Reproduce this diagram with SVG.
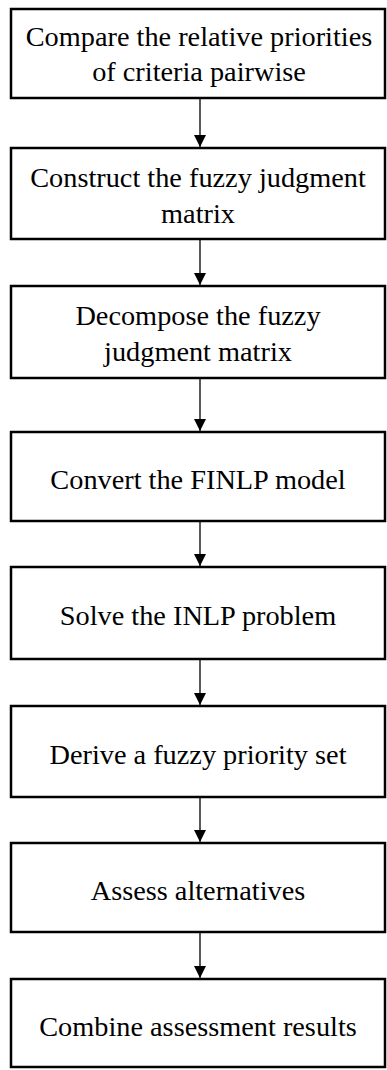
<svg xmlns="http://www.w3.org/2000/svg" width="387" height="1070" viewBox="0 0 387 1070">
<style>
.box{fill:#fff;stroke:#000;stroke-width:2.5}
.t{font-family:'Liberation Serif','Times New Roman',Times,serif;font-size:28.3px;fill:#000;text-anchor:middle}
.c{stroke:#000;stroke-width:1.3;fill:none}
</style>
<defs>
<marker id="ah" viewBox="0 0 12 12" refX="12" refY="6" markerWidth="12" markerHeight="12" markerUnits="userSpaceOnUse" orient="auto">
<path d="M0,0 L12,6 L0,12 Z" fill="#000"/>
</marker>
</defs>
<rect width="387" height="1070" fill="#fff"/>
<g id="connectors">
<line class="c" x1="200" y1="98" x2="200" y2="147" marker-end="url(#ah)"/>
<line class="c" x1="200" y1="239" x2="200" y2="285" marker-end="url(#ah)"/>
<line class="c" x1="200" y1="378" x2="200" y2="431" marker-end="url(#ah)"/>
<line class="c" x1="200" y1="521" x2="200" y2="566" marker-end="url(#ah)"/>
<line class="c" x1="200" y1="659" x2="200" y2="705" marker-end="url(#ah)"/>
<line class="c" x1="200" y1="797" x2="200" y2="842" marker-end="url(#ah)"/>
<line class="c" x1="200" y1="932" x2="200" y2="978" marker-end="url(#ah)"/>
</g>
<g id="n1"><rect class="box" x="11" y="9" width="374" height="89"/><text class="t" x="199" y="46">Compare the relative priorities</text><text class="t" x="199" y="81">of criteria pairwise</text></g>
<g id="n2"><rect class="box" x="11" y="148" width="374" height="91"/><text class="t" x="198" y="187">Construct the fuzzy judgment</text><text class="t" x="198" y="223">matrix</text></g>
<g id="n3"><rect class="box" x="11" y="286" width="374" height="92"/><text class="t" x="198" y="325">Decompose the fuzzy</text><text class="t" x="198" y="361">judgment matrix</text></g>
<g id="n4"><rect class="box" x="11" y="432" width="374" height="89"/><text class="t" x="198" y="489">Convert the FINLP model</text></g>
<g id="n5"><rect class="box" x="11" y="567" width="374" height="92"/><text class="t" x="198" y="625">Solve the INLP problem</text></g>
<g id="n6"><rect class="box" x="11" y="706" width="374" height="91"/><text class="t" x="198" y="764">Derive a fuzzy priority set</text></g>
<g id="n7"><rect class="box" x="11" y="843" width="374" height="89"/><text class="t" x="198" y="900">Assess alternatives</text></g>
<g id="n8"><rect class="box" x="11" y="979" width="374" height="88"/><text class="t" x="198" y="1036">Combine assessment results</text></g>
</svg>
